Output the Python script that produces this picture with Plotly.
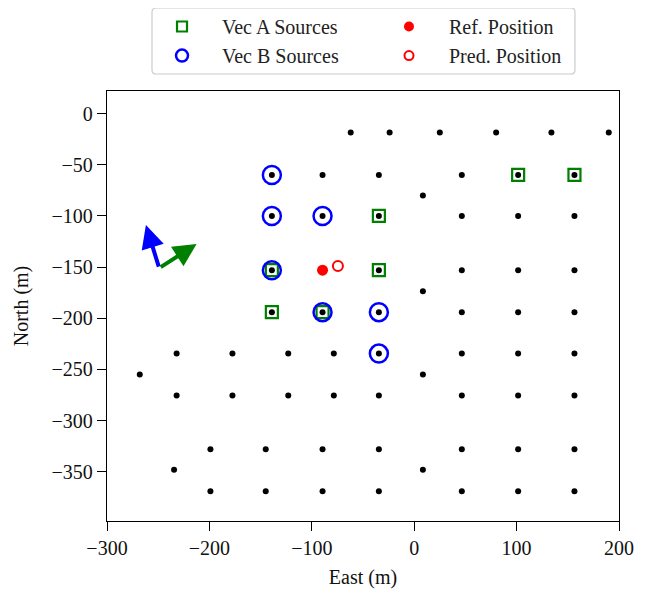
import plotly.graph_objects as go

# ---- data (metres) ----
sensor_east = [-62, -24, 25, 80, 134, 190,
               -139, -89.5, -34.5, 46.5, 101.5, 156.5,
               -139, -89.5, -34.5, 46.5, 101.5, 156.5,
               -139, -89.5, -34.5, 46.5, 101.5, 156.5,
               -139, -89.5, -34.5, 46.5, 101.5, 156.5,
               -232, -177.5, -123, -78.5, -34.5, 46.5, 101.5, 156.5,
               -232, -177.5, -123, -78.5, -34.5, 46.5, 101.5, 156.5,
               -199, -145, -89.5, -34.5, 46.5, 101.5, 156.5,
               -199, -145, -89.5, -34.5, 46.5, 101.5, 156.5,
               8.5, 8.5, 8.5, 8.5, -268, -234.5]
sensor_north = [-18.6] * 6 + [-60] * 6 + [-100] * 6 + [-153] * 6 + [-194] * 6 \
    + [-234.5] * 8 + [-275.5] * 8 + [-328] * 7 + [-369] * 7 \
    + [-80, -173.5, -255, -348, -255, -348]

vec_a_east = [101.5, 156.5, -34.5, -139, -34.5, -139, -89.5]
vec_a_north = [-60, -60, -100, -153, -153, -194, -194]

vec_b_east = [-139, -139, -89.5, -139, -89.5, -34.5, -34.5]
vec_b_north = [-60, -100, -100, -153, -194, -194, -234.5]

ref_east, ref_north = [-89.5], [-153]
pred_east, pred_north = [-74.5], [-149]

arrow_origin = (-249, -151)
arrow_a_tip = (-212.5, -127.5)
arrow_b_tip = (-262, -109)

x_ticks = [-300, -200, -100, 0, 100, 200]
y_ticks = [0, -50, -100, -150, -200, -250, -300, -350]

FONT = "Liberation Serif"

styles = {
    "Vec A Sources": dict(symbol="square-open", color="green", size=12, lw=2.2,
                          leg_size=10, legend="legend"),
    "Vec B Sources": dict(symbol="circle-open", color="blue", size=18, lw=2.5,
                          leg_size=12, legend="legend"),
    "Ref. Position": dict(symbol="circle", color="red", size=11, lw=0,
                          leg_size=10, legend="legend2"),
    "Pred. Position": dict(symbol="circle-open", color="red", size=10, lw=2,
                           leg_size=9, legend="legend2"),
}
series = {
    "Vec A Sources": (vec_a_east, vec_a_north),
    "Vec B Sources": (vec_b_east, vec_b_north),
    "Ref. Position": (ref_east, ref_north),
    "Pred. Position": (pred_east, pred_north),
}

fig = go.Figure()
fig.add_trace(go.Scatter(x=sensor_east, y=sensor_north, mode="markers",
                         marker=dict(color="black", size=6), showlegend=False,
                         hoverinfo="skip"))
for name, (xs, ys) in series.items():
    st = styles[name]
    fig.add_trace(go.Scatter(x=xs, y=ys, mode="markers", name=name, showlegend=False,
                             marker=dict(symbol=st["symbol"], size=st["size"], color=st["color"],
                                         line=dict(width=st["lw"], color=st["color"]))))
# legend entries (smaller symbols, as in the reference legend)
for name in series:
    st = styles[name]
    fig.add_trace(go.Scatter(x=[None], y=[None], mode="markers", name=name,
                             legend=st["legend"],
                             marker=dict(symbol=st["symbol"], size=st["leg_size"],
                                         color=st["color"],
                                         line=dict(width=st["lw"], color=st["color"]))))

for tip, col in [(arrow_b_tip, "blue"), (arrow_a_tip, "green")]:
    fig.add_annotation(x=tip[0], y=tip[1], ax=arrow_origin[0], ay=arrow_origin[1],
                       xref="x", yref="y", axref="x", ayref="y", text="",
                       showarrow=True, arrowhead=2, arrowsize=1.15, arrowwidth=4,
                       arrowcolor=col, standoff=0)

axis_common = dict(showline=True, linecolor="black", linewidth=1.3, mirror=True,
                   ticks="outside", ticklen=9, tickwidth=1.2, tickcolor="black",
                   showgrid=False, zeroline=False, automargin=False,
                   tickfont=dict(family=FONT, size=20, color="#111"),
                   title_font=dict(family=FONT, size=20, color="#111"))

fig.update_xaxes(range=[-300, 200], tickvals=x_ticks,
                 ticktext=[str(v).replace("-", "\u2212") for v in x_ticks],
                 title_text="East (m)", title_standoff=13, **axis_common)
fig.update_yaxes(range=[-398, 22], tickvals=y_ticks,
                 ticktext=[str(v).replace("-", "\u2212") for v in y_ticks],
                 title_text="North (m)", title_standoff=17, **axis_common)

legend_common = dict(orientation="v", xanchor="left", yanchor="top", y=1.1953,
                     itemwidth=70, borderwidth=0, bgcolor="rgba(0,0,0,0)",
                     font=dict(family=FONT, size=20, color="#222"))

# rounded legend frame (paper coordinates)
x0, x1, y0, y1 = 0.0879, 0.914, 1.0395, 1.193
rx, ry = 0.008, 0.0095
frame = (f"M {x0+rx},{y0} L {x1-rx},{y0} Q {x1},{y0} {x1},{y0+ry} "
         f"L {x1},{y1-ry} Q {x1},{y1} {x1-rx},{y1} L {x0+rx},{y1} "
         f"Q {x0},{y1} {x0},{y1-ry} L {x0},{y0+ry} Q {x0},{y0} {x0+rx},{y0} Z")
fig.add_shape(type="path", xref="paper", yref="paper", path=frame,
              line=dict(color="#cccccc", width=1.2), fillcolor="rgba(0,0,0,0)")

# page body has an 8px default margin, so the figure is 8px smaller and shifted
fig.update_layout(
    width=639, height=581,
    margin=dict(l=99, r=28, t=83, b=68, autoexpand=False),
    plot_bgcolor="white", paper_bgcolor="white",
    font=dict(family=FONT, size=20, color="black"),
    legend=dict(x=0.0684, **legend_common),
    legend2=dict(x=0.5117, **legend_common),
)

fig.write_html("out.html")
